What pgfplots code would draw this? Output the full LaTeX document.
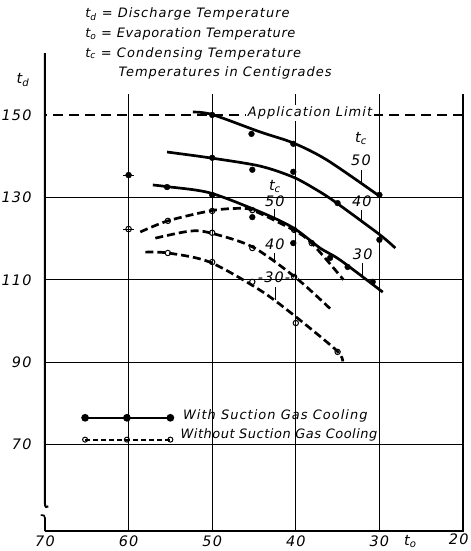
\documentclass[border=0pt]{standalone}
\usepackage{fontspec}
\setmainfont{DejaVu Sans}[LetterSpace=8]
\usepackage{pgfplots}
\pgfplotsset{compat=1.18}
\newcommand{\hdr}{\itshape\fontsize{13}{14}\selectfont}
\newcommand{\tck}{\itshape\fontsize{14.5}{15}\selectfont}
\begin{document}
\begin{tikzpicture}
\begin{axis}[
  scale only axis, width=418bp, height=436.7bp,
  x dir=reverse,
  xmin=20, xmax=70, ymin=49, ymax=155,
  xtick={30,40,50,60},
  extra x ticks={70},
  extra x tick style={grid=none},
  ytick={70,90,110,130},
  extra y ticks={150},
  extra y tick style={grid=major, major grid style={black, line width=1.2bp, dash pattern=on 10bp off 6bp}},
  grid=major,
  major grid style={black, line width=0.8bp},
  axis line style={draw=none},
  major tick length=0pt,
  /pgf/number format/assume math mode=true,
  tick label style={font=\tck},
  yticklabel style={xshift=-10bp},
  xticklabel style={yshift=-1bp},
  clip=false,
]
% axis lines with break
\draw[line width=2bp] (axis cs:70,165) -- (axis cs:70,55.6) .. controls (axis cs:70,54.8) and (axis cs:69.8,54.6) .. (axis cs:69.6,55.0);
\draw[line width=1.6bp] (axis cs:70,49) -- (axis cs:70,52.2) .. controls (axis cs:70,52.8) and (axis cs:70.2,53.0) .. (axis cs:70.5,52.9);
\draw[line width=1.5bp] (axis cs:70,49) -- (axis cs:20,49) -- (axis cs:20,155);
\node[anchor=north east, font=\tck, yshift=-1bp, inner sep=1bp] at (axis cs:19.2,49) {\strut20};

% with suction gas cooling (solid)
\addplot[black, line width=2.7bp, smooth] coordinates {
  (52.3,150.7) (50,150.1) (44.3,145.9) (40.3,143.2) (36.3,139.1) (30.2,130.6)};
\addplot[black, line width=2.7bp, smooth] coordinates {
  (55.4,141.0) (50.3,139.6) (44.3,137.6) (40.3,134.9) (37.5,131.8) (35.3,128.9) (30,121) (28.1,117.7)};
\addplot[black, line width=2.7bp, smooth] coordinates {
  (57.1,133.0) (55.4,132.6) (50.3,131.1) (44.3,126.5) (40.3,122.6) (37.1,117.7) (34.7,114.8) (29.6,107.0)};
\addplot[only marks, mark=*, mark size=2.9bp, black] coordinates {
  (50,150) (45.3,145.4) (40.3,143.0) (30,130.6)
  (50,139.6) (45.2,136.7) (40.3,136.2) (35,128.6) (30,119.7)
  (55.4,132.5) (50,130.6) (45.2,125.2) (40.3,118.9) (35.9,115.3) (33.8,113.1) (30.8,109.5)};

% without suction gas cooling (dashed)
\addplot[black, line width=2.7bp, dash pattern=on 8bp off 4bp, smooth] coordinates {
  (58.6,121.6) (55.3,124.3) (50.3,126.7) (47.3,127.3) (45.2,126.9) (40.3,122.1) (38.1,118.9) (34.3,110.0)};
\addplot[black, line width=2.7bp, dash pattern=on 8bp off 4bp, smooth] coordinates {
  (56.8,120.1) (52.7,121.8) (50.3,121.4) (45.2,118.0) (40.0,110.5) (35.9,103.0)};
\addplot[black, line width=2.7bp, dash pattern=on 8bp off 4bp, smooth] coordinates {
  (58.0,116.7) (55.3,116.5) (50.3,114.3) (44.3,107.5) (40.3,101.5) (35.1,92.8) (34.4,90.2)};
\addplot[only marks, mark=o, mark size=2.7bp, black, mark options={fill=white, line width=1bp}] coordinates {
  (55.3,124.3) (50,126.7) (45.2,126.9) (40.2,122.1) (38.1,118.9)
  (50,121.4) (45.2,117.7) (40.2,110.7)
  (55.3,116.5) (50,114.3) (45.2,109.5) (40,99.5) (35,92.5)};

% isolated reference points at 60
\addplot[only marks, mark=+, mark size=5.5bp, black, line width=1bp] coordinates {(60,135.4) (60,122.3)};
\addplot[only marks, mark=*, mark size=3bp, black] coordinates {(60,135.4)};
\addplot[only marks, mark=o, mark size=2.8bp, black, mark options={fill=white, line width=1bp}] coordinates {(60,122.3)};

% legend samples
\addplot[black, line width=2.2bp, mark=*, mark size=2.7bp] coordinates {(65.2,76.5) (60.2,76.5) (55.0,76.5)};
\addplot[black, line width=1.9bp, dash pattern=on 5bp off 3bp, mark=o, mark size=2.5bp,
  mark options={solid, fill=white, line width=1bp}] coordinates {(65.2,71.2) (60.2,71.2) (55.0,71.2)};
\node[anchor=west, font=\hdr] at (axis cs:53.9,76.9) {With Suction Gas Cooling};
\node[anchor=west, font=\hdr\addfontfeature{LetterSpace=4}] at (axis cs:54.2,72.3) {Without Suction Gas Cooling};

% text
\node[anchor=west, font=\hdr] at (axis cs:65.6,174.4) {t\textsubscript{d} = Discharge Temperature};
\node[anchor=west, font=\hdr\addfontfeature{LetterSpace=5}] at (axis cs:65.6,169.7) {t\textsubscript{o} = Evaporation Temperature};
\node[anchor=west, font=\hdr] at (axis cs:65.6,164.9) {t\textsubscript{c} = Condensing Temperature};
\node[anchor=west, font=\hdr] at (axis cs:61.6,160.2) {Temperatures in Centigrades};
\node[anchor=west, font=\tck] at (axis cs:73.8,158.5) {t\textsubscript{d}};
\node[anchor=north, font=\tck, yshift=-1bp] at (axis cs:26.3,49) {t\textsubscript{o}};
\node[fill=white, inner sep=1.5bp, font=\hdr] at (axis cs:38.3,150.5) {Application Limit};

% t_c labels, solid curves
\node[font=\tck] at (axis cs:32.2,144.2) {t\textsubscript{c}};
\node[font=\tck] at (axis cs:32.2,138.9) {50};
\draw[line width=0.8bp] (axis cs:32.2,136.7) -- (axis cs:32.2,133.7);
\node[font=\tck] at (axis cs:32.1,129.0) {40};
\draw[line width=0.8bp] (axis cs:32.1,126.9) -- (axis cs:32.1,124.5);
\node[font=\tck] at (axis cs:32.0,116.1) {30};
\draw[line width=0.8bp] (axis cs:32.0,114.1) -- (axis cs:32.0,110.7);
% t_c labels, dashed curves
\node[font=\tck] at (axis cs:42.5,132.6) {t\textsubscript{c}};
\node[font=\tck] at (axis cs:42.5,129.0) {50};
\draw[line width=0.8bp] (axis cs:42.6,127.2) -- (axis cs:42.6,125.2);
\node[font=\tck] at (axis cs:42.5,118.5) {40};
\draw[line width=0.8bp] (axis cs:42.6,116.5) -- (axis cs:42.6,114.3);
\node[font=\tck] at (axis cs:42.6,110.5) {-30-};
\draw[line width=0.8bp] (axis cs:42.4,108.3) -- (axis cs:42.4,105.1);

\coordinate (BL) at (axis cs:75.38,44.17);
\coordinate (TR) at (axis cs:19.16,177.9);
\end{axis}
\pgfresetboundingbox
\path[use as bounding box] (BL) rectangle (TR);
\end{tikzpicture}
\end{document}
